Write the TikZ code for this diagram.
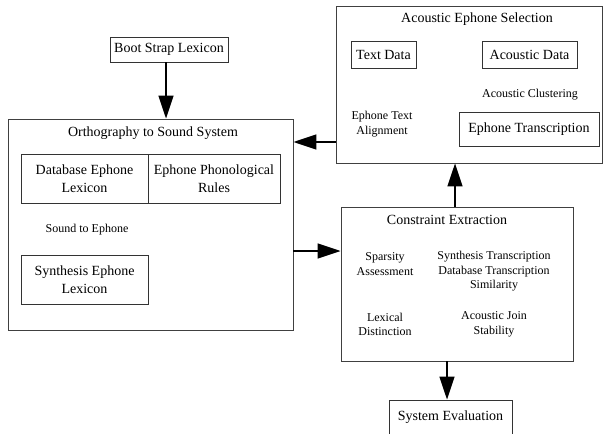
\documentclass[tikz,border=0pt]{standalone}
\usepackage{fontspec}
\setmainfont{Liberation Serif}
\usetikzlibrary{arrows.meta}

\begin{document}
\begin{tikzpicture}[x=1pt, y=-1pt,
    % Styles
    frame/.style={draw=black!75, line width=0.9pt, fill=white, inner sep=0pt},
    item/.style={draw=black!80, line width=0.9pt, align=center, font=\fontsize{14}{17.5}\selectfont, inner sep=0pt},
    label/.style={align=center, font=\fontsize{14}{17.5}\selectfont},
    note/.style={align=center, font=\fontsize{12}{14.5}\selectfont},
    arrow/.style={-{Triangle[length=23pt, width=15pt]}, line width=1.5pt},
]
\useasboundingbox (0,0) rectangle (604,433);

% Outer frames
\node[frame, minimum width=285pt, minimum height=211pt] (ortho) at (150.5,224.5) {};
\node[frame, minimum width=266pt, minimum height=157pt] (acoustic) at (469,84.5) {};
\node[frame, minimum width=232pt, minimum height=154pt] (constraint) at (457,284) {};

% Boot strap lexicon
\node[item, minimum width=118pt, minimum height=25pt] (boot) at (169,49.5) {Boot Strap Lexicon};

% Orthography to sound system
\node[label] (orthotitle) at (153,133) {Orthography to Sound System};
\node[item, minimum width=127pt, minimum height=49pt] (dblex) at (84.5,178.5) {Database Ephone\\Lexicon};
\node[item, minimum width=132pt, minimum height=49pt] (rules) at (214,178.5) {Ephone Phonological\\Rules};
\node[note] (s2e) at (87,230) {Sound to Ephone};
\node[item, minimum width=127pt, minimum height=49pt] (synlex) at (84.5,279.5) {Synthesis Ephone\\Lexicon};

% Acoustic ephone selection
\node[label] (acoustictitle) at (477,19) {Acoustic Ephone Selection};
\node[item, minimum width=65pt, minimum height=27pt] (textdata) at (383.5,54.5) {Text Data};
\node[item, minimum width=95pt, minimum height=27pt] (acdata) at (529.5,54.5) {Acoustic Data};
\node[note] (clustering) at (530,95) {Acoustic Clustering};
\node[note] (alignment) at (382,124) {Ephone Text\\Alignment};
\node[item, minimum width=140pt, minimum height=34pt] (transcr) at (529,129) {Ephone Transcription};

% Constraint extraction
\node[label] (constrainttitle) at (447,220) {Constraint Extraction};
\node[note] (sparsity) at (385,264) {Sparsity\\Assessment};
\node[note] (similarity) at (494,271.5) {Synthesis Transcription\\Database Transcription\\Similarity};
\node[note] (lexical) at (385,324.5) {Lexical\\Distinction};
\node[note] (join) at (494,324.5) {Acoustic Join\\Stability};

% System evaluation
\node[item, minimum width=123pt, minimum height=34pt] (sysev) at (450.5,417) {System Evaluation};

% Arrows
\draw[arrow] (boot.south -| 166,0) -- (ortho.north -| 166,0);
\draw[arrow] (acoustic.west |- 0,142) -- (ortho.east |- 0,142);
\draw[arrow] (ortho.east |- 0,251) -- (constraint.west |- 0,251);
\draw[arrow] (constraint.north -| 455,0) -- (acoustic.south -| 455,0);
\draw[arrow] (constraint.south -| 447,0) -- (sysev.north -| 447,0);

\end{tikzpicture}
\end{document}
